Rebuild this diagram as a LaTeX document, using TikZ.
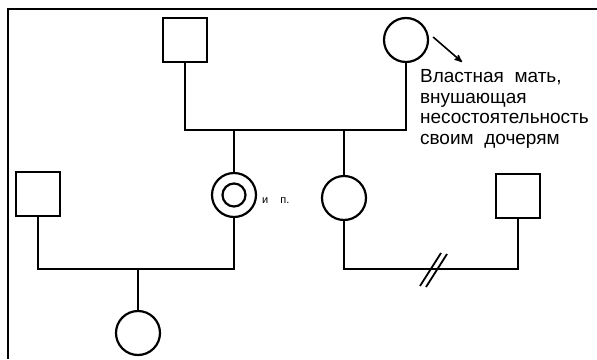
\documentclass[tikz,border=0pt]{standalone}
\usepackage{fontspec}
\newfontfamily\labelfont{Liberation Sans}
\usetikzlibrary{positioning,calc,arrows}

\begin{document}
\begin{tikzpicture}[x=1pt,y=-1pt,line width=2.2pt,
	male/.style={draw,rectangle,minimum size=44pt,inner sep=0pt},
	female/.style={draw,circle,minimum size=44pt,inner sep=0pt},
	note/.style={font=\labelfont\fontsize{19}{20.4}\selectfont,align=left,inner sep=0pt}]
		\useasboundingbox (0,0) rectangle (597,359);
		\draw[line width=1.6pt] (597,9) -- (8,9) -- (8,359);
		% persons
		\node[male] (gf) at (185,40) {};
		\node[female] (gm) at (406,40) {};
		\node[male] (hu) at (38,194) {};
		\node[female] (ip) at (234,195) {};
		\node[circle,draw,minimum size=23pt,inner sep=0pt] (ipin) at (ip) {};
		\node[female] (si) at (344,198) {};
		\node[male] (sh) at (518,196) {};
		\node[female] (gd) at (138,333) {};
		% marriage lines
		\coordinate (mtop) at (0,130);
		\coordinate (mlow) at (0,269);
		\draw (gf.south) |- (gm.south |- mtop) -- (gm.south);
		\draw (ip.north) -- (ip.north |- mtop);
		\draw (si.north) -- (si.north |- mtop);
		\draw (hu.south) |- (ip.south |- mlow) -- (ip.south);
		\draw (si.south) |- (sh.south |- mlow) -- (sh.south);
		\draw (gd.north) -- (gd.north |- mlow);
		% divorce
		\coordinate (div) at ($(si.south |- mlow)!0.5!(sh.south |- mlow)$);
		\draw[line width=1.8pt] ($(div)+(-11,17)$) -- ++(21,-33);
		\draw[line width=1.8pt] ($(div)+(-5,18)$) -- ++(21,-33);
		% labels
		\node[note,anchor=base west] (no) at (419,144) {Властная\ \ мать,\\внушающая\\несостоятельность\\своим\ \ дочерям};
		\node[font=\labelfont\fontsize{11}{12}\selectfont,anchor=west,inner sep=0pt] (ipno) at ($(ip.east)+(4,6)$) {и\hspace{1.1em}п.};
		\coordinate (tip) at (462,62);
		\draw[-stealth',line width=1.6pt] ($(gm.east)+(4,-3)$) -- (tip);
\end{tikzpicture}
\end{document}
